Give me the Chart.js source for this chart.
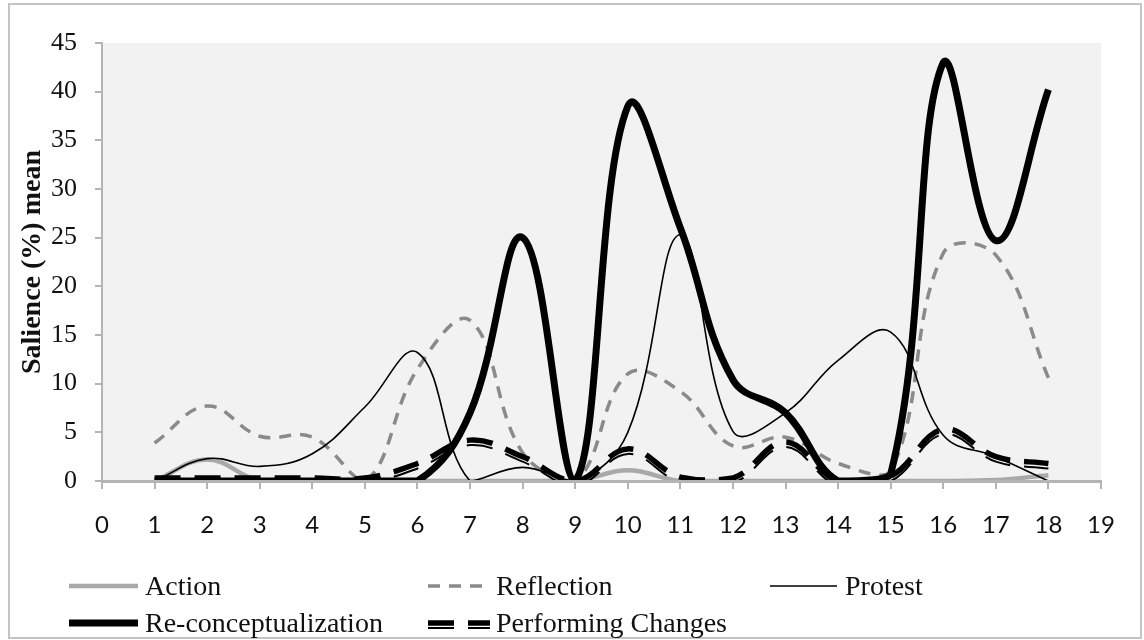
<!DOCTYPE html>
<html>
<head>
<meta charset="utf-8">
<script src="https://cdn.jsdelivr.net/npm/chart.js@4.4.1/dist/chart.umd.min.js"></script>
<style>
  html, body { margin: 0; padding: 0; background: #fff; }
  canvas { display: block; }
</style>
</head>
<body>
<canvas id="salienceChart" width="1144" height="640"></canvas>
<script>
// sessions along the x axis
const sessions = [1, 2, 3, 4, 5, 6, 7, 8, 9, 10, 11, 12, 13, 14, 15, 16, 17, 18];

// salience (%) mean per category
const action     = [0, 2.2, 0, 0, 0, 0, 0, 0, 0, 1.1, 0, 0, 0, 0, 0, 0, 0.1, 0.6];
const reflection = [3.9, 7.7, 4.6, 4.5, 0, 11.5, 16.5, 2.9, 0, 11, 9.2, 3.6, 4.5, 1.8, 1, 23.4, 23.2, 10.6];
const protest    = [0, 2.3, 1.5, 2.8, 7.6, 13.2, 0, 1.4, 0, 5, 25.3, 5.1, 7, 12.4, 15.3, 4.7, 2.5, 0];
const reconcept  = [0, 0, 0, 0, 0, 0, 7, 25, 0, 38.5, 26, 10.4, 7, 0, 0.7, 43, 24.7, 40.2];
const performing = [0.3, 0.3, 0.3, 0.3, 0.3, 1.8, 4.2, 2.5, 0, 3.3, 0.4, 0.3, 4, 0, 0.5, 5.3, 2.5, 1.8];

const xMin = 0, xMax = 19, yMin = 0, yMax = 45;

function pts(values) {
    return values.map((v, i) => ({ x: sessions[i], y: v }));
}

const axisGrey = '#b4b4b4';
// lines are cut at the x axis like in the original, free on the other sides
const lineClip = { left: 6, top: 6, right: 6, bottom: 0 };

// the "Performing Changes" line is a compound line: thick dash with a thin one under it
const shiftPlugin = {
    id: 'shiftLine',
    beforeDatasetDraw(chart, args) {
        const ds = chart.data.datasets[args.index];
        const a = chart.chartArea;
        const ctx = chart.ctx;
        ctx.save();
        if (ds.shiftY) {
            ctx.beginPath();
            ctx.rect(a.left - 6, a.top - 6, a.right - a.left + 12, a.bottom - a.top + 6);
            ctx.clip();
            ctx.translate(0, ds.shiftY);
        }
    },
    afterDatasetDraw(chart) {
        chart.ctx.restore();
    }
};

const frame = {
    id: 'frame',
    beforeDraw(chart) {
        const { ctx, chartArea } = chart;
        ctx.save();
        ctx.fillStyle = '#ffffff';
        ctx.fillRect(0, 0, chart.width, chart.height);
        ctx.strokeStyle = '#c4c4c4';
        ctx.lineWidth = 2;
        ctx.strokeRect(9, 4, 1132, 634);
        ctx.fillStyle = '#f2f2f2';
        ctx.fillRect(chartArea.left, chartArea.top, chartArea.right - chartArea.left, chartArea.bottom - chartArea.top);
        ctx.restore();
    }
};

// legend laid out like the original: 3 columns, 2 rows
const legendSpots = [
    { label: 'Action', row: 0, col: 0 },
    { label: 'Reflection', row: 0, col: 1 },
    { label: 'Protest', row: 0, col: 2 },
    { label: 'Re-conceptualization', row: 1, col: 0 },
    { label: 'Performing Changes', row: 1, col: 1 }
];
const legendRows = [588, 625];
const legendCols = [{ x0: 69, x1: 138, tx: 145 }, { x0: 428, x1: 490, tx: 496 }, { x0: 770, x1: 837, tx: 845 }];

const gridLegend = {
    id: 'gridLegend',
    afterDraw(chart) {
        const ctx = chart.ctx;
        legendSpots.forEach(spot => {
            const list = chart.data.datasets.filter(d => d.label === spot.label);
            const y = legendRows[spot.row];
            const col = legendCols[spot.col];
            list.forEach(ds => {
                ctx.save();
                ctx.strokeStyle = ds.borderColor;
                ctx.lineWidth = ds.borderWidth;
                ctx.lineCap = ds.borderCapStyle || 'butt';
                ctx.setLineDash(ds.borderDash || []);
                ctx.beginPath();
                ctx.moveTo(col.x0, y + (ds.shiftY || 0) - 2);
                ctx.lineTo(col.x1, y + (ds.shiftY || 0) - 2);
                ctx.stroke();
                ctx.restore();
            });
            ctx.save();
            ctx.fillStyle = '#111';
            ctx.font = '28px "Liberation Serif", serif';
            ctx.textBaseline = 'middle';
            ctx.fillText(spot.label, col.tx, y);
            ctx.restore();
        });
    }
};

const ctx = document.getElementById('salienceChart').getContext('2d');
const salienceChart = new Chart(ctx, {
    type: 'line',
    data: {
        datasets: [
            {
                label: 'Performing Changes',
                data: pts(performing),
                borderColor: '#000',
                borderWidth: 2,
                borderDash: [26, 14],
                shiftY: 5,
                clip: lineClip,
                order: 1
            },
            {
                label: 'Performing Changes',
                data: pts(performing),
                borderColor: '#000',
                borderWidth: 5.5,
                borderDash: [26, 14],
                clip: lineClip,
                order: 1
            },
            {
                label: 'Re-conceptualization',
                data: pts(reconcept),
                borderColor: '#000',
                borderWidth: 7,
                clip: lineClip,
                order: 2
            },
            {
                label: 'Protest',
                data: pts(protest),
                borderColor: '#000',
                borderWidth: 1.6,
                clip: lineClip,
                order: 3
            },
            {
                label: 'Reflection',
                data: pts(reflection),
                borderColor: '#8a8a8a',
                borderWidth: 3.5,
                borderDash: [12, 9],
                clip: lineClip,
                order: 4
            },
            {
                label: 'Action',
                data: pts(action),
                borderColor: '#a9a9a9',
                borderWidth: 4.5,
                clip: lineClip,
                order: 5
            }
        ]
    },
    options: {
        responsive: false,
        animation: false,
        devicePixelRatio: 1,
        layout: { padding: { left: 0, top: 43, right: 43, bottom: 0 } },
        elements: {
            point: { radius: 0 },
            line: { tension: 0.4, fill: false, capBezierPoints: true }
        },
        plugins: {
            legend: { display: false },
            tooltip: { enabled: false }
        },
        scales: {
            x: {
                type: 'linear',
                min: xMin,
                max: xMax,
                afterFit(scale) { scale.height = 159; },
                ticks: {
                    stepSize: 1,
                    autoSkip: false,
                    maxRotation: 0,
                    padding: 22,
                    color: '#111',
                    font: { family: 'Lato', size: 24 }
                },
                grid: {
                    display: true,
                    drawOnChartArea: false,
                    drawTicks: true,
                    tickLength: 8,
                    color: axisGrey,
                    lineWidth: 2
                },
                border: { display: true, color: axisGrey, width: 3, z: 1 }
            },
            y: {
                min: yMin,
                max: yMax,
                afterFit(scale) { scale.width = 102; },
                ticks: {
                    stepSize: 5,
                    padding: 18,
                    color: '#111',
                    font: { family: 'Liberation Serif', size: 26 }
                },
                grid: {
                    display: true,
                    drawOnChartArea: false,
                    drawTicks: true,
                    tickLength: 7,
                    color: axisGrey,
                    lineWidth: 2
                },
                border: { display: true, color: axisGrey, width: 2 },
                title: {
                    display: true,
                    text: 'Salience (%) mean',
                    color: '#111',
                    padding: { top: 16, bottom: 0 },
                    font: { family: 'Liberation Serif', size: 28, weight: 'bold' }
                }
            }
        }
    },
    plugins: [frame, shiftPlugin, gridLegend]
});
</script>
</body>
</html>
